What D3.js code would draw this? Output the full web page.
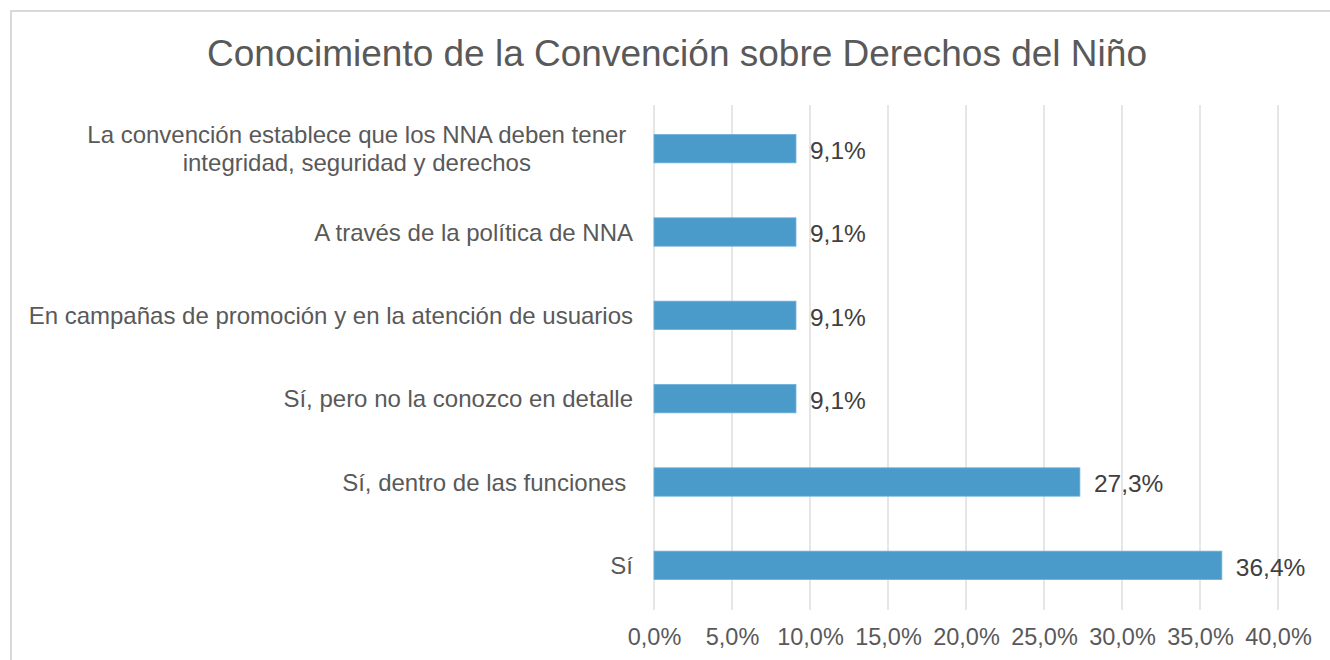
<!DOCTYPE html>
<html>
<head>
<meta charset="utf-8">
<script src="https://cdn.jsdelivr.net/npm/d3@7"></script>
<style>
  body { margin: 0; background: #fff; }
  text { font-family: "Liberation Sans", Arial, sans-serif; white-space: pre; }
</style>
</head>
<body>
<svg id="chart" width="1330" height="660"></svg>
<script>
// categories, top to bottom ("|" = line break)
const categories = [
    "La convención establece que los NNA deben tener |integridad, seguridad y derechos ",
    "A través de la política de NNA",
    "En campañas de promoción y en la atención de usuarios",
    "Sí, pero no la conozco en detalle",
    "Sí, dentro de las funciones ",
    "Sí"
];
const values = [9.1, 9.1, 9.1, 9.1, 27.3, 36.4];
const xTicks = [0, 5, 10, 15, 20, 25, 30, 35, 40];
const title = "Conocimiento de la Convención sobre Derechos del Niño";

const svg = d3.select("#chart");
const fmt = v => v.toFixed(1).replace(".", ",") + "%";

// outer frame
svg.append("rect")
    .attr("x", 11).attr("y", 11)
    .attr("width", 1340).attr("height", 700)
    .attr("fill", "#fff")
    .attr("stroke", "#d9d9d9").attr("stroke-width", 2);

svg.append("text")
    .attr("x", 677).attr("y", 66)
    .attr("text-anchor", "middle")
    .attr("font-size", 37)
    .attr("fill", "#595959")
    .text(title);

const x = d3.scaleLinear().domain([0, 40]).range([654, 1278]);
const y = d3.scaleBand().domain(categories).range([107, 607]).paddingInner(0.66).paddingOuter(0.33);

// gridlines
svg.append("g").selectAll("line").data(xTicks).join("line")
    .attr("x1", d => x(d)).attr("x2", d => x(d))
    .attr("y1", 105).attr("y2", 610)
    .attr("stroke", "#d9d9d9").attr("stroke-width", 1.3);

// x axis labels
const xAxis = d3.axisBottom(x).tickValues(xTicks).tickSize(0).tickPadding(0)
    .tickFormat(d => fmt(d));
const gx = svg.append("g").attr("transform", "translate(0,645)").call(xAxis);
gx.select(".domain").remove();
gx.selectAll("text")
    .attr("font-size", 23.5)
    .attr("fill", "#595959")
    .attr("font-family", "Liberation Sans, Arial, sans-serif")
    .attr("dy", 0);

// bars
svg.append("g").selectAll("rect").data(values).join("rect")
    .attr("x", x(0))
    .attr("y", (d, i) => y(categories[i]))
    .attr("width", d => x(d) - x(0))
    .attr("height", y.bandwidth())
    .attr("fill", "#4a9bc9")
    .attr("stroke", "#6aaedb").attr("stroke-width", 0.8);

// data labels
svg.append("g").selectAll("text").data(values).join("text")
    .attr("x", d => x(d) + 14)
    .attr("y", (d, i) => y(categories[i]) + y.bandwidth() / 2)
    .attr("dy", "0.42em")
    .attr("font-size", 24.5)
    .attr("fill", "#404040")
    .text(d => fmt(d));

// category labels (multi-line, lines centred within a right-aligned block)
const labelRight = 633;
categories.forEach(c => {
    const lines = c.split("|");
    const cy = y(c) + y.bandwidth() / 2;
    const g = svg.append("g");
    const lh = 28;
    const ts = lines.map((ln, j) => g.append("text")
        .attr("y", cy + (j - (lines.length - 1) / 2) * lh)
        .attr("dy", "0.36em")
        .attr("font-size", 24)
        .attr("fill", "#595959")
        .attr("text-anchor", "middle")
        .text(ln));
    const w = d3.max(ts, t => t.node().getComputedTextLength());
    ts.forEach(t => t.attr("x", labelRight - w / 2));
});
</script>
</body>
</html>
